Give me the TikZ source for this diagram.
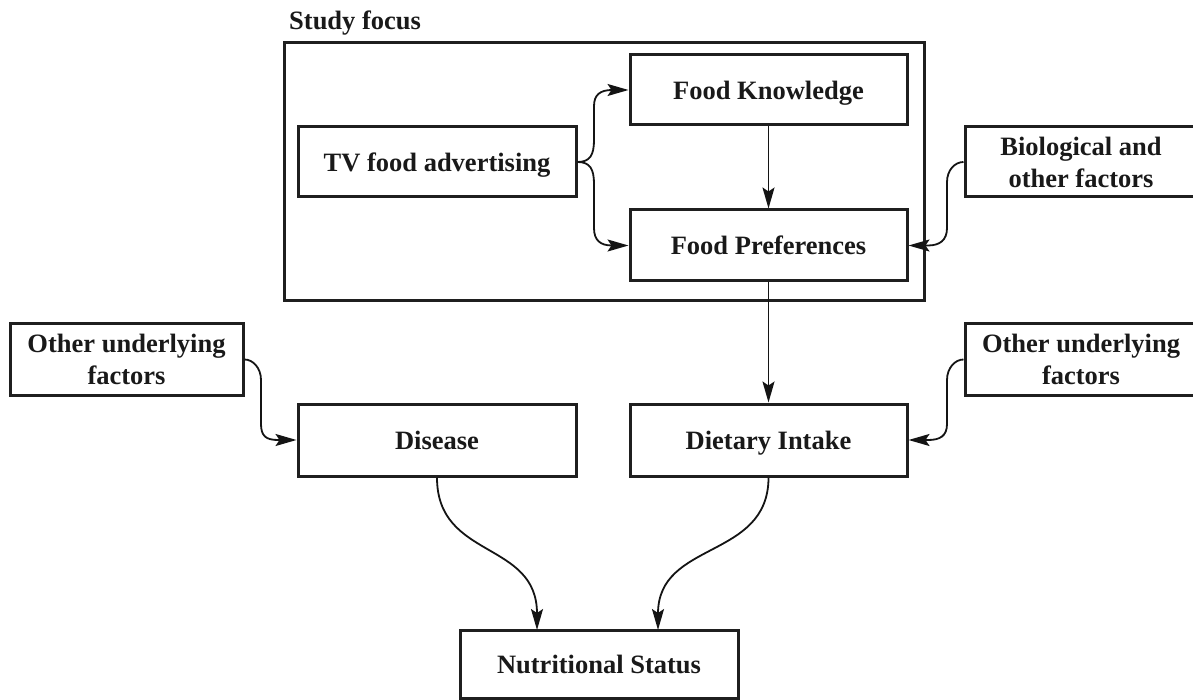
\documentclass[tikz,border=0pt]{standalone}
\usepackage{fontspec}
\setmainfont{Liberation Serif}
\usetikzlibrary{arrows.meta}
\begin{document}
\begin{tikzpicture}[x=1pt,y=-1pt,
  box/.style={draw=black!88, line width=3pt, inner sep=0pt, align=center,
    font=\fontsize{26.5}{32}\selectfont\bfseries, text=black!90},
  one/.style={text height=21pt, text depth=2pt},
  conn/.style={line width=1.8pt, draw=black!92, -{Stealth[length=21pt,width=12pt,inset=4pt]}},
  lbl/.style={font=\fontsize{26.5}{32}\selectfont\bfseries, inner sep=0pt, text=black!90}]
\useasboundingbox (0,0) rectangle (1193,700);
\clip (0,0) rectangle (1193,700);
% study focus frame
\node[draw=black!88, line width=3pt, minimum width=640pt, minimum height=258pt] (focus) at (604,172) {};
\node[lbl, anchor=base west] (focuslbl) at (289,30) {Study focus};
% boxes
\node[box, one, minimum width=278pt, minimum height=70pt] (tv) at (437,162) {TV food advertising};
\node[box, one, minimum width=277pt, minimum height=70pt] (fk) at (768.5,90) {Food Knowledge};
\node[box, one, minimum width=277pt, minimum height=71pt] (fp) at (768.5,245.5) {Food Preferences};
\node[box, minimum width=232pt, minimum height=70pt] (bio) at (1081,162) {Biological and\\other factors};
\node[box, minimum width=233pt, minimum height=71pt] (oul) at (126.5,359.5) {Other underlying\\factors};
\node[box, minimum width=232pt, minimum height=71pt] (our) at (1081,359.5) {Other underlying\\factors};
\node[box, one, minimum width=278pt, minimum height=72pt] (dis) at (437,440) {Disease};
\node[box, one, minimum width=277pt, minimum height=72pt] (di) at (768.5,440) {Dietary Intake};
\node[box, one, minimum width=278pt, minimum height=68pt] (ns) at (599,664) {Nutritional Status};
% connectors
\draw[conn] (tv.east) .. controls (590,162) and (594,155) .. (594,140) -- (594,106)
  .. controls (594,95) and (600,90) .. (612,90) -- (fk.west);
\draw[conn] (tv.east) .. controls (590,162) and (594,169) .. (594,184) -- (594,228)
  .. controls (594,240) and (600,245.5) .. (612,245.5) -- (fp.west);
\draw[conn] (fk.south) -- (fp.north);
\draw[conn] (fp.south) -- (di.north);
\draw[conn] (bio.west) .. controls (955,162) and (947,170) .. (947,182) -- (947,228)
  .. controls (947,240) and (940,245.5) .. (928,245.5) -- (fp.east);
\draw[conn] (our.west) .. controls (955,359.5) and (947,368) .. (947,380) -- (947,424)
  .. controls (947,436) and (940,440) .. (928,440) -- (di.east);
\draw[conn] (oul.east) .. controls (253,359.5) and (261,368) .. (261,380) -- (261,424)
  .. controls (261,436) and (266,440) .. (278,440) -- (dis.west);
\draw[conn] (dis.south) .. controls (437,560) and (537,540) .. (537,630);
\draw[conn] (di.south) .. controls (768.5,560) and (658,540) .. (658,630);
\end{tikzpicture}
\end{document}
